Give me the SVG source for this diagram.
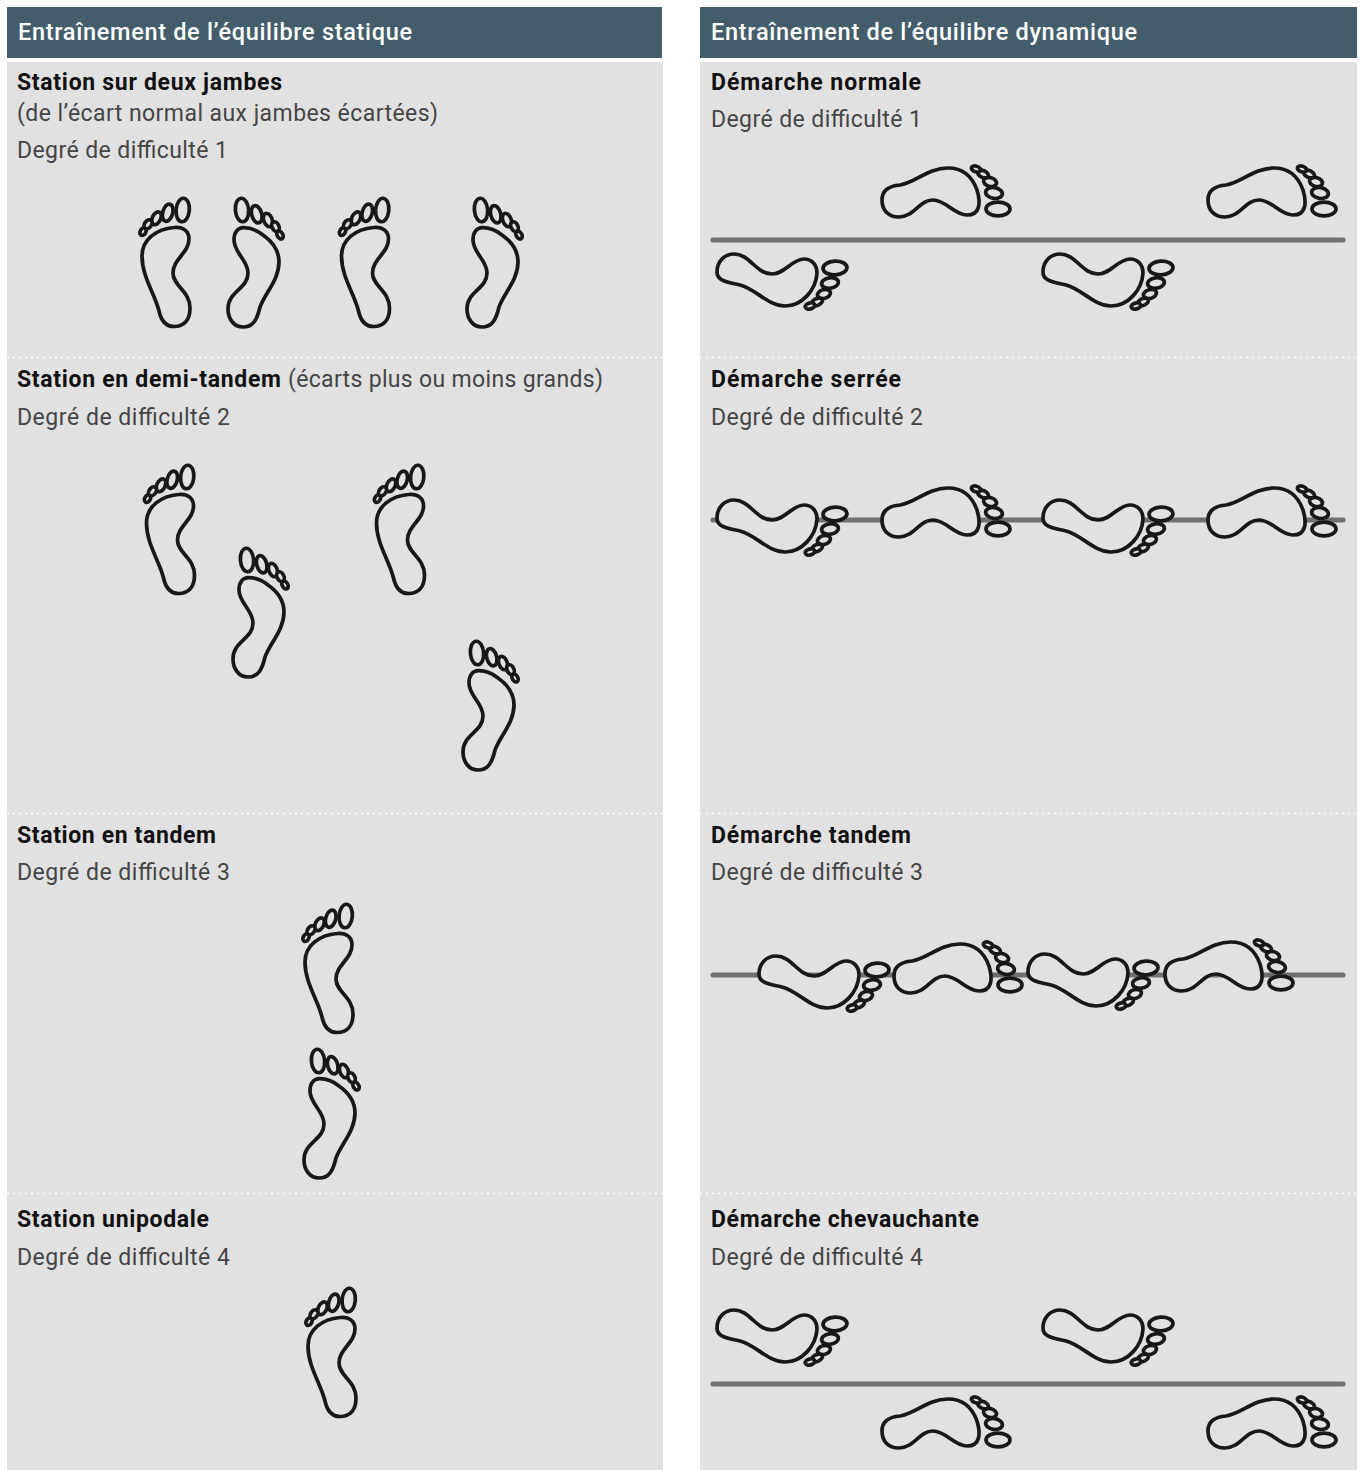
<svg xmlns="http://www.w3.org/2000/svg" width="1360" height="1470" viewBox="0 0 1360 1470">
<style>
text{font-family:"Roboto","Liberation Sans",sans-serif}
.h{font-size:23.5px;font-weight:500;fill:#fff}
.b{font-size:23px;font-weight:700;fill:#111}
.r{font-size:23px;font-weight:400;fill:#454545}
.f ellipse,.f path{fill:#e1e1e1;stroke:#181818;stroke-width:3.7}
.sep{stroke:#fff;stroke-width:1.6;stroke-dasharray:2 4}
.ln{stroke:#707070;stroke-linecap:round;stroke-width:5}
</style>
<defs>
<g id="footL" class="f">
<path d="M44 42.5C53 41.5 59 46 59 54C59 68 43 74 43 88C43 101 60 106 60 123C60 135 54 141.500 44 141.500C35 141.500 31 135 29 126C25 109 12 92 12 71C12 54 27 44 44 42.5Z"/>
<ellipse cx="52.7" cy="25" rx="6.6" ry="11.8" transform="rotate(5 52.7 25)"/>
<ellipse cx="37.7" cy="27.7" rx="5" ry="8.8" transform="rotate(15 37.7 27.7)"/>
<ellipse cx="26.500" cy="33.3" rx="4.2" ry="6.8" transform="rotate(25 26.500 33.3)"/>
<ellipse cx="18" cy="39.3" rx="3.4" ry="5" transform="rotate(35 18 39.3)"/>
<ellipse cx="13" cy="46.7" rx="2.8" ry="4" transform="rotate(30 13 46.7)"/>
</g>
<g id="footR" class="f">
<path d="M113.3 42.7C122 42.5 128 46 133 50C143 57 149 67 149 77C149 95 135 108 130 122C127 135 123 142 113 142C104 142 98 134 98 124C98 106 118 104 118 88C118 75 104 68 104 55C104 47 108 43 113.3 42.7Z"/>
<ellipse cx="112" cy="25" rx="6.6" ry="11.8" transform="rotate(-5 112 25)"/>
<ellipse cx="126.7" cy="29.3" rx="5" ry="8.8" transform="rotate(-15 126.7 29.3)"/>
<ellipse cx="138" cy="35" rx="4.2" ry="7" transform="rotate(-20 138 35)"/>
<ellipse cx="145.5" cy="41.7" rx="3.4" ry="5.2" transform="rotate(-25 145.5 41.7)"/>
<ellipse cx="150" cy="50" rx="2.8" ry="4.2" transform="rotate(-30 150 50)"/>
</g>
<g id="footU" class="f">
<path d="M182 50C182 41 188 36 200 35C215 33 228 18 248 18C262 18 272 26 277 40C281 53 280 65 267 65C254 65 246 50 233 50C219 50 214 67 199 67C188 67 182 60 182 50Z"/>
<ellipse cx="298" cy="59" rx="12" ry="6.8"/>
<ellipse cx="294" cy="43" rx="8.4" ry="5.4" transform="rotate(8 294 43)"/>
<ellipse cx="290" cy="32" rx="6.6" ry="4.4" transform="rotate(15 290 32)"/>
<ellipse cx="283" cy="24" rx="5.8" ry="3.4" transform="rotate(25 283 24)"/>
<ellipse cx="276" cy="19" rx="4.8" ry="2.8" transform="rotate(20 276 19)"/>
</g>
<g id="footD" class="f">
<path d="M17 122C17 112 24 104 34 104C50 104 56 124 72 124C85 124 92 109 104 109C112 109 117 115 117 123C116 140 102 156 85 156C68 156 56 139 40 135C27 132 17 131 17 122Z"/>
<ellipse cx="135" cy="118" rx="12" ry="6.8" transform="rotate(-3 135 118)"/>
<ellipse cx="130" cy="133" rx="8.4" ry="5.2" transform="rotate(-8 130 133)"/>
<ellipse cx="124" cy="144" rx="6.6" ry="4.4" transform="rotate(-15 124 144)"/>
<ellipse cx="117" cy="152" rx="5.8" ry="3.4" transform="rotate(-25 117 152)"/>
<ellipse cx="110" cy="156" rx="4.8" ry="3" transform="rotate(-15 110 156)"/>
</g>
</defs>
<rect width="1360" height="1470" fill="#fff"/>
<g id="panel-static">
<rect x="7" y="7" width="655" height="51" fill="#445d6a"/>
<rect x="7" y="62" width="656" height="1408" fill="#e1e1e1"/>
<text class="h" x="18" y="39.5" textLength="394">Entraînement de l’équilibre statique</text>
</g>
<g id="panel-dynamic">
<rect x="700" y="7" width="657" height="51" fill="#445d6a"/>
<rect x="700" y="62" width="657" height="1408" fill="#e1e1e1"/>
<text class="h" x="711" y="39.5" textLength="426">Entraînement de l’équilibre dynamique</text>
</g>
<g id="separators">
<path class="sep" d="M7 357.5H663M700 357.5H1357M7 813.5H663M700 813.5H1357M7 1193.5H663M700 1193.5H1357"/>
</g>
<g id="static-1">
<text class="b" x="17" y="90" textLength="265">Station sur deux jambes</text>
<text class="r" x="17" y="121" textLength="421">(de l’écart normal aux jambes écartées)</text>
<text class="r" x="17" y="158" textLength="211">Degré de difficulté 1</text>
<use href="#footL" transform="translate(130 185)"/>
<use href="#footR" transform="translate(130 185)"/>
<use href="#footL" transform="translate(329.5 185)"/>
<use href="#footR" transform="translate(369 185)"/>
</g>
<g id="static-2">
<text class="b" x="17" y="387" textLength="264">Station en demi-tandem</text>
<text class="r" x="288" y="387" textLength="315">(écarts plus ou moins grands)</text>
<text class="r" x="17" y="425" textLength="213">Degré de difficulté 2</text>
<use href="#footL" transform="translate(134.5 452)"/>
<use href="#footR" transform="translate(135 535)"/>
<use href="#footL" transform="translate(364.5 452)"/>
<use href="#footR" transform="translate(365 628)"/>
</g>
<g id="static-3">
<text class="b" x="17" y="843" textLength="199">Station en tandem</text>
<text class="r" x="17" y="880" textLength="213">Degré de difficulté 3</text>
<use href="#footL" transform="translate(293 891)"/>
<use href="#footR" transform="translate(206 1036)"/>
</g>
<g id="static-4">
<text class="b" x="17" y="1227" textLength="192">Station unipodale</text>
<text class="r" x="17" y="1265" textLength="213">Degré de difficulté 4</text>
<use href="#footL" transform="translate(296 1275)"/>
</g>
<g id="dynamic-1">
<text class="b" x="711" y="90" textLength="210">Démarche normale</text>
<text class="r" x="711" y="127" textLength="211">Degré de difficulté 1</text>
<path class="ln" d="M713 240H1343"/>
<use href="#footU" transform="translate(700 150)"/>
<use href="#footU" transform="translate(1026 150)"/>
<use href="#footD" transform="translate(700 150)"/>
<use href="#footD" transform="translate(1026 150)"/>
</g>
<g id="dynamic-2">
<text class="b" x="711" y="387" textLength="190">Démarche serrée</text>
<text class="r" x="711" y="425" textLength="212">Degré de difficulté 2</text>
<path class="ln" d="M713 520H1343"/>
<use href="#footU" transform="translate(700 470)"/>
<use href="#footU" transform="translate(1026 470)"/>
<use href="#footD" transform="translate(700 396)"/>
<use href="#footD" transform="translate(1026 396)"/>
</g>
<g id="dynamic-3">
<text class="b" x="711" y="843" textLength="200">Démarche tandem</text>
<text class="r" x="711" y="880" textLength="212">Degré de difficulté 3</text>
<path class="ln" d="M713 975H1343"/>
<use href="#footD" transform="translate(742 852)"/>
<use href="#footU" transform="translate(712 926)"/>
<use href="#footD" transform="translate(1011 850)"/>
<use href="#footU" transform="translate(983 924)"/>
</g>
<g id="dynamic-4">
<text class="b" x="711" y="1227" textLength="268">Démarche chevauchante</text>
<text class="r" x="711" y="1265" textLength="212">Degré de difficulté 4</text>
<path class="ln" d="M713 1384H1343"/>
<use href="#footD" transform="translate(700 1206)"/>
<use href="#footD" transform="translate(1026 1206)"/>
<use href="#footU" transform="translate(700 1381)"/>
<use href="#footU" transform="translate(1026 1381)"/>
</g>
</svg>
